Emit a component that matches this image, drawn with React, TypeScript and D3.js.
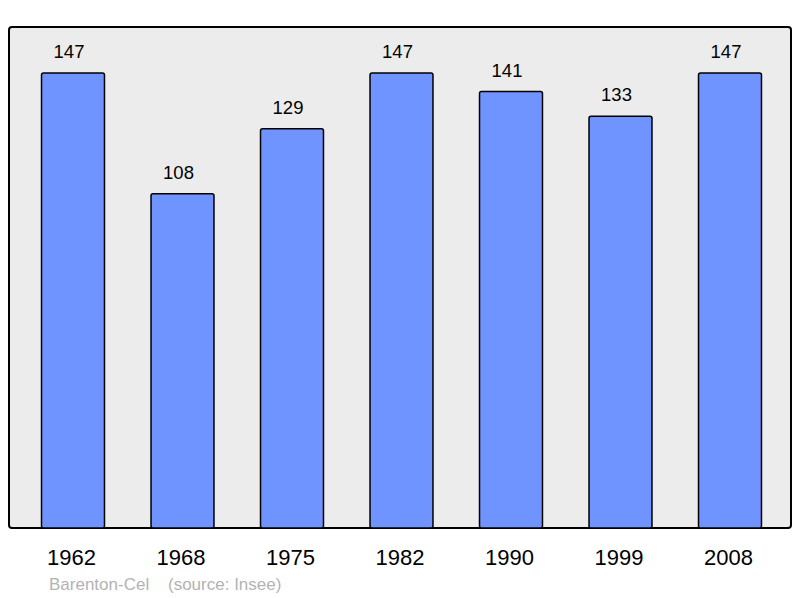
import React from "react";
import * as d3 from "d3";

// population by census year
const years = ["1962", "1968", "1975", "1982", "1990", "1999", "2008"];
const population = [147, 108, 129, 147, 141, 133, 147];
const town = "Barenton-Cel";
const source = "(source: Insee)";

export default function App() {
  const width = 800;
  const height = 598;
  const panel = { x: 9, y: 27, w: 782, h: 501 };
  const bottom = panel.y + panel.h;

  const xScale = d3
    .scaleBand()
    .domain(years)
    .range([18.25, 784.75])
    .paddingInner(0.425)
    .paddingOuter(0.2125);

  const yScale = d3
    .scaleLinear()
    .domain([0, d3.max(population) as number])
    .range([bottom, 73]);

  const font = "'Liberation Sans', Arial, sans-serif";

  return (
    <svg
      width={width}
      height={height}
      style={{ position: "absolute", left: 0, top: 0 }}
      fontFamily={font}
    >
      <rect width={width} height={height} fill="#fff" />
      <rect
        x={panel.x}
        y={panel.y}
        width={panel.w}
        height={panel.h}
        rx={3}
        fill="#ececec"
        stroke="#000"
        strokeWidth={2}
      />
      {years.map((yr, i) => {
        const x = xScale(yr) as number;
        const y = yScale(population[i]);
        const cx = x + xScale.bandwidth() / 2;
        return (
          <g key={yr}>
            <rect
              x={x}
              y={y}
              width={xScale.bandwidth()}
              height={bottom - y}
              rx={2}
              fill="#7094ff"
              stroke="#000"
              strokeWidth={1.5}
            />
            <text x={cx - 4} y={y - 15} textAnchor="middle" fontSize={18.5} fill="#000">
              {population[i]}
            </text>
            <text x={cx - 1.5} y={565} textAnchor="middle" fontSize={22} fill="#000">
              {yr}
            </text>
          </g>
        );
      })}
      <text x={49} y={590} fontSize={17} fill="#b3b3b3">
        {town}
      </text>
      <text x={168} y={590} fontSize={17} fill="#b3b3b3">
        {source}
      </text>
    </svg>
  );
}
